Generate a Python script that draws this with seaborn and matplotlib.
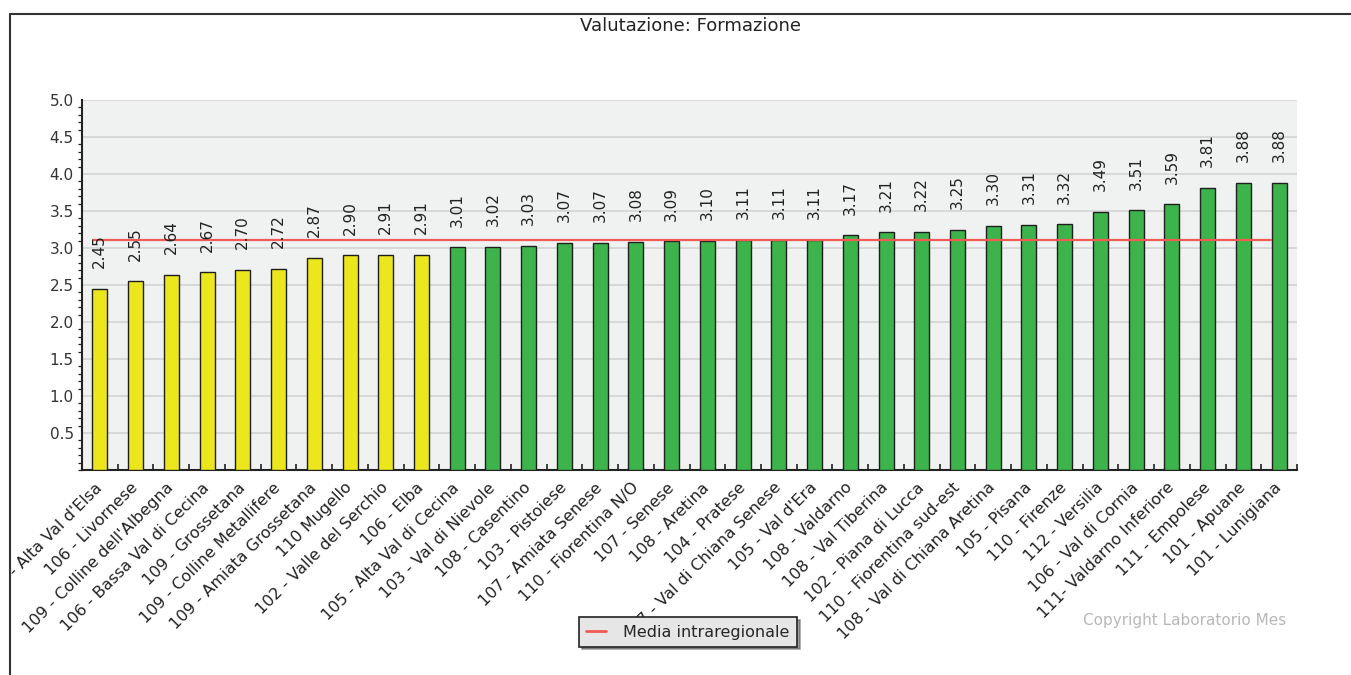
import matplotlib
matplotlib.use("Agg")
import matplotlib.pyplot as plt
from matplotlib.lines import Line2D
from matplotlib.patches import Rectangle
import seaborn as sns
import pandas as pd

labels = [
    "109 - Alta Val d'Elsa", "106 - Livornese", "109 - Colline dell'Albegna",
    "106 - Bassa Val di Cecina", "109 - Grossetana", "109 - Colline Metallifere",
    "109 - Amiata Grossetana", "110 Mugello", "102 - Valle del Serchio",
    "106 - Elba", "105 - Alta Val di Cecina", "103 - Val di Nievole",
    "108 - Casentino", "103 - Pistoiese", "107 - Amiata Senese",
    "110 - Fiorentina N/O", "107 - Senese", "108 - Aretina", "104 - Pratese",
    "107 - Val di Chiana Senese", "105 - Val d'Era", "108 - Valdarno",
    "108 - Val Tiberina", "102 - Piana di Lucca", "110 - Fiorentina sud-est",
    "108 - Val di Chiana Aretina", "105 - Pisana", "110 - Firenze",
    "112 - Versilia", "106 - Val di Cornia", "111- Valdarno Inferiore",
    "111 - Empolese", "101 - Apuane", "101 - Lunigiana",
]
values = [
    2.45, 2.55, 2.64, 2.67, 2.70, 2.72, 2.87, 2.90, 2.91, 2.91,
    3.01, 3.02, 3.03, 3.07, 3.07, 3.08, 3.09, 3.10, 3.11, 3.11,
    3.11, 3.17, 3.21, 3.22, 3.25, 3.30, 3.31, 3.32, 3.49, 3.51,
    3.59, 3.81, 3.88, 3.88,
]
fascia = ["gialla"] * 10 + ["verde"] * 24
media_regionale = 3.11
title = "Valutazione: Formazione"
legend_label = "Media intraregionale"
copyright_text = "Copyright Laboratorio Mes"

palette = {"gialla": "#ece61c", "verde": "#3cb44b"}

df = pd.DataFrame({"zona": labels, "valore": values, "fascia": fascia})

sns.set_style("white")
plt.rcParams["font.family"] = ["DejaVu Sans"]

fig = plt.figure(figsize=(13.51, 6.75), dpi=100)
ax = fig.add_axes([82 / 1351, 1 - 470 / 675, (1297 - 82) / 1351, (470 - 100) / 675])
ax.set_facecolor("#f0f1f1")

sns.barplot(data=df, x="zona", y="valore", hue="fascia", palette=palette,
            dodge=False, width=0.42, edgecolor="#1e1e1e", linewidth=1.0,
            saturation=1, legend=False, ax=ax, zorder=3)

n = len(values)
ax.set_xlim(-0.5, n - 0.5)
ax.set_ylim(0, 5.0)

# grid
ax.set_yticks([0.5, 1.0, 1.5, 2.0, 2.5, 3.0, 3.5, 4.0, 4.5, 5.0])
ax.set_yticks([i / 10 for i in range(0, 51)], minor=True)
ax.grid(axis="y", which="major", color="#d6d6d6", linewidth=1.3, zorder=0)
ax.set_axisbelow(True)

# red mean line
ax.hlines(media_regionale, -0.2, n - 1.2, color="#f25a55", linewidth=1.6, zorder=4)

# value labels
for i, v in enumerate(values):
    ax.text(i, v + 0.28, f"{v:.2f}", rotation=90, ha="center", va="bottom",
            fontsize=11, color="#222222", zorder=5)

# axes styling
for s in ["top", "right"]:
    ax.spines[s].set_visible(False)
for s in ["left", "bottom"]:
    ax.spines[s].set_color("#222222")
    ax.spines[s].set_linewidth(1.5)

ax.tick_params(axis="y", which="major", direction="out", length=4.5, width=1.2,
               color="#222222", labelsize=11, labelcolor="#333333", pad=1.5)
ax.tick_params(axis="y", which="minor", direction="out", length=3, width=0.9,
               color="#222222", left=True)

ax.set_xticks(range(n))
ax.set_xticklabels(labels, rotation=45, ha="right", va="center",
                   rotation_mode="anchor", fontsize=11.5, color="#222222")
ax.tick_params(axis="x", which="major", length=0, pad=11)
ax.set_xticks([i + 0.5 for i in range(n)], minor=True)
ax.tick_params(axis="x", which="minor", direction="in", length=4.3, width=1.2,
               color="#222222", bottom=True)
ax.set_xlabel("")
ax.set_ylabel("")

# title
fig.text(690 / 1351, 1 - 26 / 675, title, ha="center", va="center", fontsize=13,
         color="#222222")

# legend
handle = Line2D([], [], color="#f25a55", linewidth=2)
leg = fig.legend([handle], [legend_label], loc="center",
                 bbox_to_anchor=(688 / 1351, 1 - 632 / 675), frameon=True,
                 fancybox=False, shadow=True, edgecolor="#222222",
                 facecolor="#e6e6e6", fontsize=11.5, handlelength=1.2,
                 borderpad=0.45, handletextpad=1.1, borderaxespad=0)
leg.get_frame().set_linewidth(1.2)
leg.set_zorder(10)

# copyright
fig.text(1286 / 1351, 1 - 620 / 675, copyright_text, ha="right", va="center",
         fontsize=11, color="#b8b8b8")

# white margin outside the outer frame (the reference clips the first label there)
fig.add_artist(Rectangle((0, 0), 10 / 1351, 1, transform=fig.transFigure,
                         facecolor="white", edgecolor="none", zorder=50))

# outer frame (top and left)
fig.add_artist(Line2D([10 / 1351, 1.0], [1 - 14 / 675, 1 - 14 / 675],
                      transform=fig.transFigure, color="#333333", linewidth=1.5,
                      zorder=60))
fig.add_artist(Line2D([10 / 1351, 10 / 1351], [0, 1 - 14 / 675],
                      transform=fig.transFigure, color="#333333", linewidth=1.5,
                      zorder=60))

fig.savefig("out.png", dpi=100)
